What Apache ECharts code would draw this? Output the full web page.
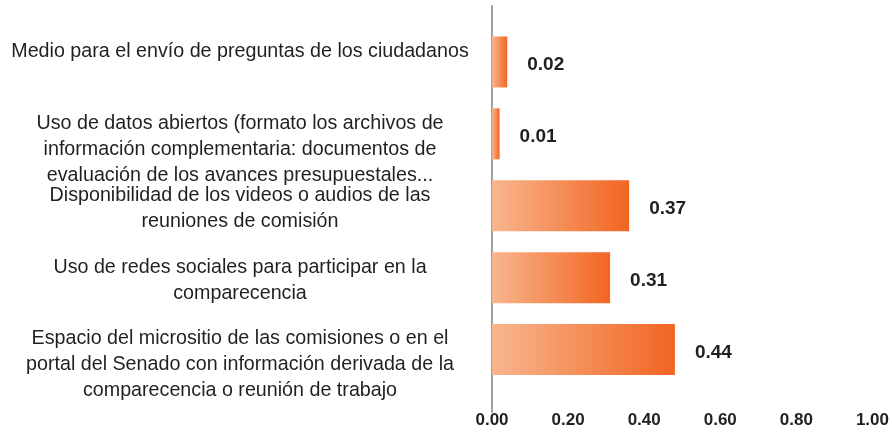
<!DOCTYPE html>
<html>
<head>
<meta charset="utf-8">
<script src="https://cdn.jsdelivr.net/npm/echarts@6/dist/echarts.min.js"></script>
<style>
  html, body { margin: 0; padding: 0; background: #fff; }
  #chart { width: 892px; height: 440px; }
</style>
</head>
<body>
<div id="chart"></div>
<script>
// categories, top to bottom
const categories = [
  'Medio para el envío de preguntas de los ciudadanos',
  'Uso de datos abiertos (formato los archivos de\ninformación complementaria: documentos de\nevaluación de los avances presupuestales...',
  'Disponibilidad de los videos o audios de las\nreuniones de comisión',
  'Uso de redes sociales para participar en la\ncomparecencia',
  'Espacio del micrositio de las comisiones o en el\nportal del Senado con información derivada de la\ncomparecencia o reunión de trabajo'
]
// bar lengths as drawn
const barValues = [0.04, 0.02, 0.36, 0.31, 0.48]
// numbers printed next to the bars
const valueLabels = ['0.02', '0.01', '0.37', '0.31', '0.44']
const xTicks = [0, 0.2, 0.4, 0.6, 0.8, 1.0]

const numFont = "'Liberation Sans', Arial, sans-serif"
const left = 492
const right = 19

const chart = echarts.init(document.getElementById('chart'))

const hiddenX = (gi) => ({
  type: 'value', gridIndex: gi, min: xTicks[0], max: xTicks[xTicks.length - 1], interval: 0.2,
  show: false
})

chart.setOption({
  animation: false,
  grid: [
    // bars
    { left: left, right: right, top: 26, height: 359.5 },
    // axis line + x labels
    { left: left, right: right, top: 6, bottom: 28 },
    // category text (top aligned with bar tops)
    { left: left, right: right, top: 2.5, height: 359.5 }
  ],
  xAxis: [
    hiddenX(0),
    {
      type: 'value', gridIndex: 1, min: xTicks[0], max: xTicks[xTicks.length - 1], interval: 0.2,
      axisLine: { show: false },
      axisTick: { show: false },
      splitLine: { show: false },
      axisLabel: {
        margin: 0,
        formatter: (v) => v.toFixed(2),
        color: '#231f20',
        fontFamily: numFont,
        fontWeight: 'bold',
        fontSize: 17
      }
    },
    hiddenX(2)
  ],
  yAxis: [
    {
      type: 'category', gridIndex: 0, inverse: true, data: categories,
      axisLine: { show: false }, axisTick: { show: false }, axisLabel: { show: false }
    },
    {
      type: 'value', gridIndex: 1, min: 0, max: 1,
      axisLine: { show: true, lineStyle: { color: '#a0a0a0', width: 2 } },
      axisTick: { show: false }, axisLabel: { show: false }, splitLine: { show: false }
    },
    {
      type: 'category', gridIndex: 2, inverse: true, data: categories,
      axisLine: { show: false }, axisTick: { show: false },
      axisLabel: {
        margin: 252,
        align: 'center',
        verticalAlign: 'top',
        lineHeight: 26,
        color: '#231f20',
        fontFamily: "'Liberation Sans', Arial, sans-serif",
        fontSize: 19.7
      }
    }
  ],
  series: [
    {
      type: 'bar',
      xAxisIndex: 0,
      yAxisIndex: 0,
      data: barValues,
      barWidth: 51,
      itemStyle: {
        color: new echarts.graphic.LinearGradient(0, 0, 1, 0, [
          { offset: 0, color: '#f8b68e' },
          { offset: 1, color: '#f26522' }
        ])
      },
      label: {
        show: true,
        position: 'right',
        distance: 20,
        offset: [0, 3],
        formatter: (p) => valueLabels[p.dataIndex],
        color: '#231f20',
        fontFamily: numFont,
        fontWeight: 'bold',
        fontSize: 19
      }
    }
  ]
})
</script>
</body>
</html>
